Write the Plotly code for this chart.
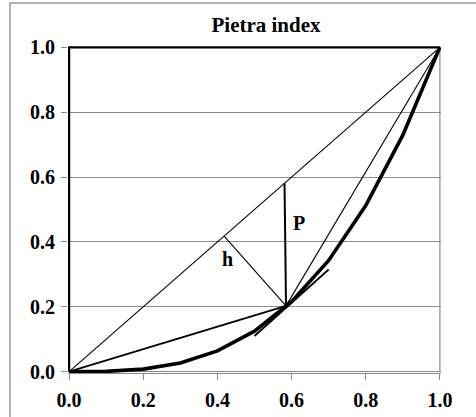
import plotly.graph_objects as go

# Lorenz-type curve
curve_x = [0.0, 0.1, 0.2, 0.3, 0.4, 0.5, 0.6, 0.7, 0.8, 0.9, 1.0]
curve_y = [0.0, 0.001, 0.008, 0.027, 0.064, 0.125, 0.216, 0.343, 0.512, 0.729, 1.0]

# key point where the curve touches the tangent
pt = (0.585, 0.203)
diag_x = [0.0, 1.0]
diag_y = [0.0, 1.0]
p_top = (0.581, 0.581)
h_top = (0.418, 0.418)
tangent_x = [0.50, 0.70]
tangent_y = [0.11, 0.315]
frame_x = [0.0, 0.0, 1.0]
frame_y = [0.0, 1.0, 1.0]
right_x = [1.0, 1.0]
right_y = [0.0, 1.0]

tick_vals = [0.0, 0.2, 0.4, 0.6, 0.8, 1.0]
tick_text = ["0.0", "0.2", "0.4", "0.6", "0.8", "1.0"]

FONT = "Times New Roman, Liberation Serif, serif"
GRAY = "#8c8c8c"

L, R, T, B = 68, 35, 46, 44
W, H = 476, 417
PW, PH = W - L - R, H - T - B

fig = go.Figure()

def line(x, y, w, color="black"):
    fig.add_trace(go.Scatter(x=x, y=y, mode="lines",
                             line=dict(color=color, width=w),
                             hoverinfo="skip", showlegend=False))

line(right_x, right_y, 1.2, GRAY)
line(diag_x, diag_y, 1.1)
line([0.0, pt[0]], [0.0, pt[1]], 1.8)
line([pt[0], 1.0], [pt[1], 1.0], 1.1)
line([p_top[0], pt[0]], [p_top[1], pt[1]], 2.0)
line([h_top[0], pt[0]], [h_top[1], pt[1]], 1.1)
line(tangent_x, tangent_y, 1.8)
line(curve_x, curve_y, 3.6)
line(frame_x, frame_y, 2.2)

fig.add_annotation(x=0.619, y=0.457, text="P", showarrow=False,
                   font=dict(family=FONT, size=20, color="black", weight="bold"))
fig.add_annotation(x=0.427, y=0.346, text="h", showarrow=False,
                   font=dict(family=FONT, size=20, color="black", weight="bold"))

fig.update_layout(
    width=W, height=H,
    margin=dict(l=L, r=R, t=T, b=B, autoexpand=False),
    paper_bgcolor="white", plot_bgcolor="white",
    title=dict(text="Pietra index", x=266/W, xanchor="center",
               y=1 - 25/H, yanchor="middle",
               font=dict(family=FONT, size=21, color="black", weight="bold")),
    font=dict(family=FONT, color="black"),
    shapes=[dict(type="rect", xref="paper", yref="paper",
                 x0=(10 - L)/PW, x1=(W + 5 - L)/PW,
                 y0=-(H + 5 - T - PH)/PH, y1=(T + PH - 3)/PH,
                 line=dict(color="#9a9a9a", width=1.5), layer="above")],
)
fig.update_xaxes(range=[-0.003, 1.003], tickvals=tick_vals, ticktext=tick_text,
                 automargin=False,
                 showgrid=False, zeroline=False, showline=True,
                 linecolor=GRAY, linewidth=1.2, ticks="outside", ticklen=6,
                 tickcolor=GRAY, tickwidth=1.2,
                 tickfont=dict(family=FONT, size=20, color="black", weight="bold"),
                 ticklabelstandoff=3)
fig.update_yaxes(range=[-0.004, 1.004], tickvals=tick_vals, ticktext=tick_text,
                 automargin=False,
                 showgrid=True, gridcolor=GRAY, gridwidth=1.2, zeroline=False,
                 showline=False, ticks="outside", ticklen=6,
                 tickcolor=GRAY, tickwidth=1.2,
                 tickfont=dict(family=FONT, size=20, color="black", weight="bold"),
                 ticklabelstandoff=2)

fig.write_html("out.html",
               config={"displayModeBar": False},
               post_script="document.body.style.margin='0';document.body.style.overflow='hidden';")
